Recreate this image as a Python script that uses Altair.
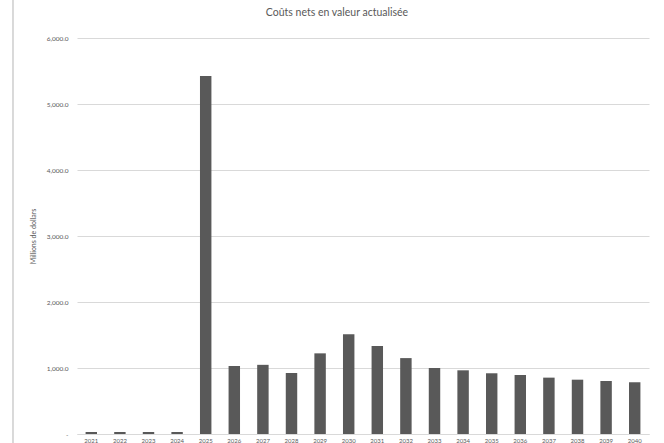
import altair as alt
import pandas as pd

# Discounted net costs by year (millions of dollars)
years = [str(y) for y in range(2021, 2041)]
costs = [30, 30, 30, 30, 5426, 1030, 1048, 924, 1222, 1513,
         1332, 1150, 1000, 965, 920, 894, 854, 823, 803, 784]

df = pd.DataFrame({"Année": years, "Coût": costs})

FONT = "Lato"
TEXT = "#595959"
GRID = "#d9d9d9"

bars = alt.Chart(df).mark_bar(color="#595959").encode(
    x=alt.X(
        "Année:N",
        sort=years,
        scale=alt.Scale(paddingInner=0.6, paddingOuter=0.3),
        axis=alt.Axis(
            title=None, labelAngle=0, labelFontSize=6, labelColor=TEXT,
            labelPadding=3, ticks=False, domain=True, domainColor=GRID,
            grid=False,
        ),
    ),
    y=alt.Y(
        "Coût:Q",
        scale=alt.Scale(domain=[0, 6000], nice=False),
        axis=alt.Axis(
            title="Millions de dollars", titleFontSize=7, titleColor=TEXT,
            titleFontWeight="normal", titlePadding=10,
            values=[0, 1000, 2000, 3000, 4000, 5000, 6000],
            labelExpr="datum.value == 0 ? '-' : format(datum.value, ',.1f')",
            labelFontSize=6.5, labelColor=TEXT, labelPadding=9,
            ticks=False, domain=False, gridColor=GRID,
        ),
    ),
)

# light outer frame around the chart
frame = alt.Chart(df).mark_rule(color=GRID, strokeWidth=1).encode(
    x=alt.value(-64), y=alt.value(-38), y2=alt.value(410)
)

chart = alt.layer(frame, bars).properties(
    width=572,
    height=396,
    title=alt.TitleParams(
        "Coûts nets en valeur actualisée", fontSize=10.5, font=FONT,
        color=TEXT, fontWeight="normal", anchor="middle", dx=-26,
        offset=14, dy=41, baseline="alphabetic",
    ),
    autosize="none",
    padding={"left": 77, "top": 38, "right": 15, "bottom": 9},
).configure(font=FONT).configure_view(stroke=None)

chart.save("out.html", embed_options={"renderer": "svg", "actions": False})
